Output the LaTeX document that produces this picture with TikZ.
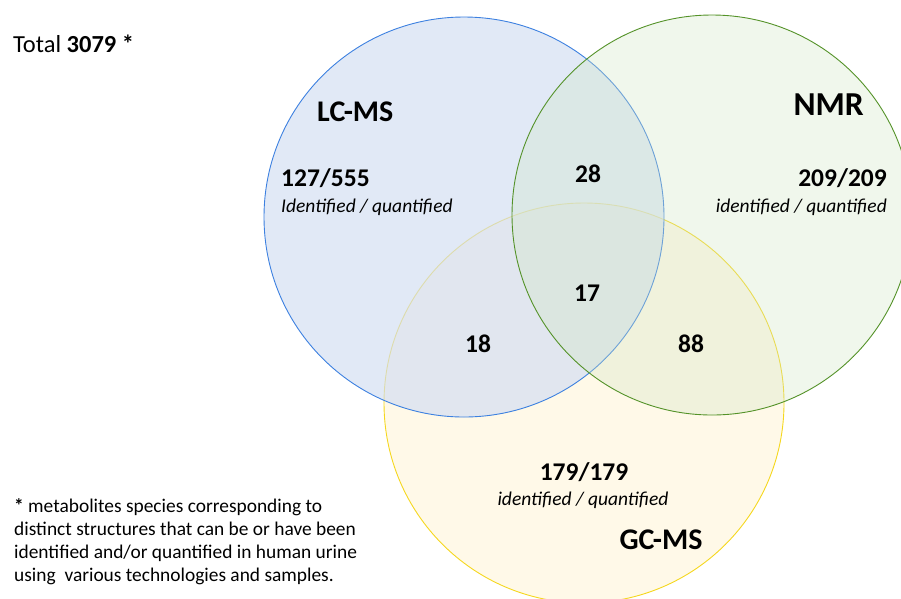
\documentclass[tikz,border=0pt]{standalone}
\usepackage{fontspec}
\setmainfont{Carlito}
\definecolor{blueS}{RGB}{60,128,224}
\definecolor{blueF}{RGB}{210,222,242}
\definecolor{greenS}{RGB}{84,146,40}
\definecolor{greenF}{RGB}{209,230,197}
\definecolor{yellowS}{RGB}{245,215,30}
\definecolor{yellowF}{RGB}{255,242,204}
\tikzset{
  setcircle/.style={line width=0.9pt},
  title/.style={font=\bfseries\fontsize{30}{36}\selectfont, inner sep=0pt},
  count/.style={font=\bfseries\fontsize{25.5}{30}\selectfont, inner sep=0pt},
  sub/.style={font=\itshape\fontsize{19.5}{23}\selectfont, inner sep=0pt},
}
\begin{document}
\begin{tikzpicture}[x=1pt,y=-1pt]
\useasboundingbox (0,0) rectangle (901,598);
\begin{scope}
\clip (0,0) rectangle (901,598);
\draw[setcircle, draw=yellowS, fill=yellowF, fill opacity=0.45] (584,403) circle (200);
\draw[setcircle, draw=blueS, fill=blueF, fill opacity=0.67] (464,217) circle (200);
\draw[setcircle, draw=greenS, fill=greenF, fill opacity=0.33] (712,215) circle (200);
\end{scope}

\node[anchor=west, inner sep=0pt, font=\fontsize{24.5}{29}\selectfont] (total) at (13,44) {Total \textbf{3079 *}};

\node[title, anchor=west] (lcms) at (317,112) {LC-MS};
\node[count, anchor=west] (lcn) at (281,178) {127/555};
\node[sub, anchor=west] (lcs) at (281,207) {Identified / quantified};

\node[title, anchor=east, font=\bfseries\fontsize{33.5}{40}\selectfont] (nmr) at (864,105) {NMR};
\node[count, anchor=east] (nmrn) at (887,178) {209/209};
\node[sub, anchor=east] (nmrs) at (887,207) {identified / quantified};

\node[count] (lcnmr) at (588,174) {28};
\node[count] (all) at (587,293) {17};
\node[count] (lcgc) at (478,344) {18};
\node[count] (nmrgc) at (691,344) {88};

\node[count] (gcn) at (584,472) {179/179};
\node[sub] (gcs) at (583,500) {identified / quantified};
\node[title] (gcms) at (661,540) {GC-MS};

\node[anchor=north west, inner sep=0pt, align=left, font=\fontsize{19.4}{23.3}\selectfont] (note) at (14,498)
{\textbf{*} metabolites species corresponding to\\
distinct structures that can be or have been\\
identified and/or quantified in human urine\\
using\ \ various technologies and samples.};
\end{tikzpicture}
\end{document}
